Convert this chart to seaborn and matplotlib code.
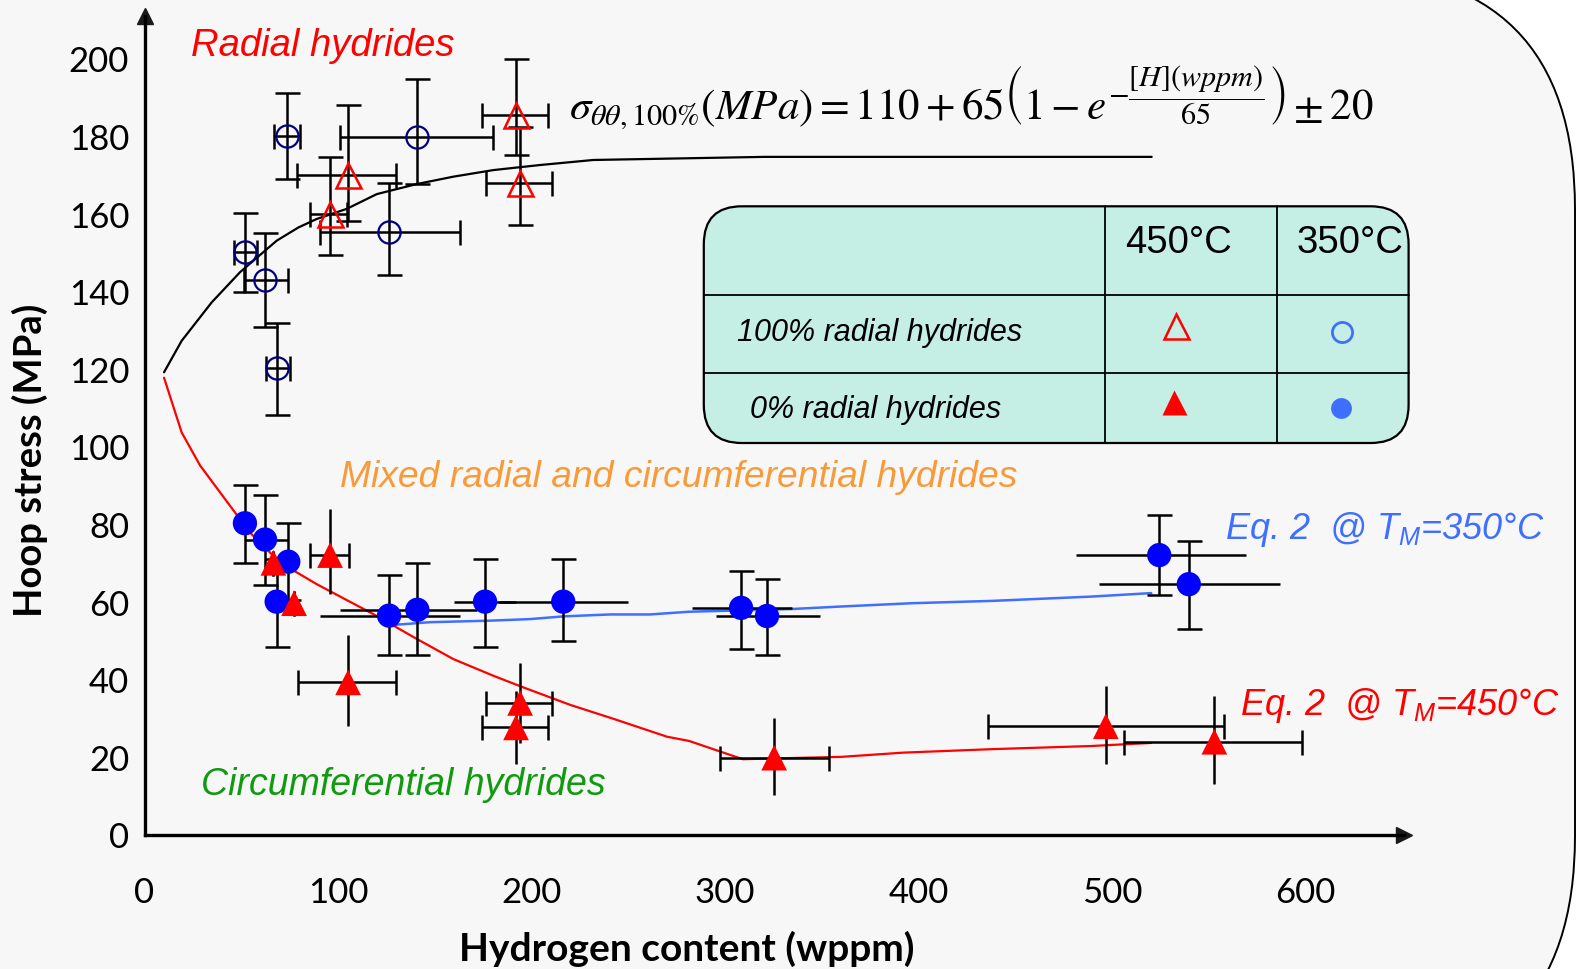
import numpy as np
import pandas as pd
import matplotlib
matplotlib.use("Agg")
import matplotlib.pyplot as plt
import seaborn as sns
from matplotlib.patches import FancyBboxPatch

# ---------------- data ----------------
# 450 °C, 100 % radial hydrides (open triangles)
h450_open = [192.0, 194.1, 105.0, 95.9]
h450_open_min = [174.2, 176.3, 79.0, 85.5]
h450_open_max = [208.5, 210.8, 130.0, 104.5]
s450_open = [185.5, 167.9, 170.0, 159.9]
s450_open_min = [175.2, 157.0, 158.2, 149.4]
s450_open_max = [199.8, 182.4, 187.9, 174.6]

# 350 °C, 100 % radial hydrides (open circles)
h350_open = [73.8, 140.7, 51.9, 62.3, 68.3, 126.4]
h350_open_min = [67.1, 101.0, 46.4, 51.6, 62.8, 90.7]
h350_open_max = [80.4, 180.3, 58.0, 74.0, 75.2, 163.1]
s350_open = [179.9, 179.6, 150.2, 143.0, 120.2, 155.3]
s350_open_min = [168.9, 167.6, 139.7, 130.8, 108.2, 144.1]
s350_open_max = [191.0, 194.7, 160.2, 154.9, 131.8, 167.9]

# 350 °C, 0 % radial hydrides (filled circles)
h350_full = [51.9, 62.3, 74.3, 68.3, 126.4, 141.0, 176.0, 216.4, 308.3, 321.7, 524.4, 539.7]
h350_full_min = [51.9, 51.9, 74.3, 68.3, 90.7, 101.0, 160.0, 183.0, 282.9, 295.4, 481.6, 493.1]
h350_full_max = [51.9, 74.3, 74.3, 68.3, 163.1, 172.0, 192.0, 249.7, 334.6, 348.9, 569.2, 586.6]
s350_full = [80.2, 76.0, 70.3, 60.0, 56.4, 57.9, 60.0, 60.0, 58.4, 56.3, 72.0, 64.5]
s350_full_min = [70.0, 64.4, 60.3, 48.4, 46.3, 46.3, 48.4, 49.9, 47.8, 46.2, 61.8, 53.0]
s350_full_max = [90.1, 87.6, 80.3, 71.0, 66.9, 70.0, 71.0, 71.0, 67.9, 65.8, 82.4, 75.6]

# 450 °C, 0 % radial hydrides (filled triangles)
h450_full = [66.6, 77.3, 95.9, 105.2, 194.1, 192.0, 325.4, 496.8, 552.9]
h450_full_min = [66.6, 77.3, 85.5, 79.3, 176.5, 174.3, 297.2, 435.7, 506.0]
h450_full_max = [66.6, 77.3, 105.8, 129.8, 210.4, 208.7, 353.5, 557.7, 598.2]
s450_full = [70.0, 59.6, 72.0, 39.2, 33.9, 27.6, 19.8, 27.9, 23.9]
s450_full_min = [70.0, 59.6, 62.0, 27.9, 23.6, 18.2, 10.2, 18.2, 13.0]
s450_full_max = [70.0, 59.6, 83.9, 51.4, 44.2, 37.0, 30.1, 38.3, 35.7]

# fitted curves (traced)
black_h = [10.1, 19.2, 34.7, 49.4, 68.3, 79.5, 89.0, 104.5, 120.0, 140.7, 159.6, 180.3, 204.4, 231.9, 320.3, 520.5]
black_s = [119.1, 127.2, 137.1, 144.9, 153.0, 156.4, 158.6, 161.2, 165.0, 167.6, 169.5, 171.2, 172.5, 173.8, 174.6, 174.6]
red_h = [10.1, 19.2, 28.7, 44.2, 54.5, 70.0, 89.0, 118.2, 140.7, 159.6, 180.3, 195.8, 220.0, 242.4, 270.0,
         281.5, 309.2, 359.9, 392.3, 438.5, 489.2, 520.3]
red_s = [117.7, 103.6, 95.1, 84.7, 77.8, 70.1, 64.5, 56.8, 50.4, 45.2, 40.9, 37.9, 33.4, 29.8, 25.2,
         24.1, 19.4, 20.0, 21.1, 22.0, 22.8, 23.6]
blue_h = [128.6, 147.5, 178.6, 199.2, 216.4, 240.6, 261.2, 281.5, 334.6, 362.3, 396.9, 438.5, 466.1, 489.2, 520.3]
blue_s = [54.0, 54.7, 55.1, 55.5, 56.2, 56.7, 56.7, 57.4, 58.1, 58.8, 59.6, 60.2, 60.8, 61.3, 62.2]

x_ticks = [0, 100, 200, 300, 400, 500, 600]
y_ticks = [0, 20, 40, 60, 80, 100, 120, 140, 160, 180, 200]
x_label = "Hydrogen content (wppm)"
y_label = "Hoop stress (MPa)"

# ---------------- styling ----------------
sns.set_theme(style="white")
plt.rcParams["font.family"] = ["Liberation Sans", "DejaVu Sans"]
plt.rcParams["text.color"] = "black"
plt.rcParams["axes.labelcolor"] = "black"
plt.rcParams["xtick.color"] = "black"
plt.rcParams["ytick.color"] = "black"
plt.rcParams["mathtext.fontset"] = "stix"
plt.rcParams["mathtext.rm"] = "Liberation Sans"
plt.rcParams["mathtext.it"] = "Liberation Sans:italic"
plt.rcParams["mathtext.bf"] = "Liberation Sans:bold"

W, H = 1577, 970
fig = plt.figure(figsize=(W / 100, H / 100), dpi=100, facecolor="white")

# background rounded panel (pixel coordinates)
bg = fig.add_axes([0, 0, 1, 1], zorder=-2)
bg.set_xlim(0, W); bg.set_ylim(H, 0); bg.axis("off")
bg.add_patch(FancyBboxPatch((-400, -30), 1975, 1107, boxstyle="round,pad=0,rounding_size=240",
                            fc="#f7f7f7", ec="black", lw=1.4))

# main axes
x0px, y0px = 144.5, 835.5
pxx, pxy = 1.935, 3.881
xmax, ymax = 651, 211
ax = fig.add_axes([x0px / W, (H - y0px) / H, xmax * pxx / W, ymax * pxy / H], zorder=1)
ax.patch.set_alpha(0)
ax.set_xlim(0, xmax); ax.set_ylim(0, ymax)
for s in ["top", "right"]:
    ax.spines[s].set_visible(False)
for s in ["left", "bottom"]:
    ax.spines[s].set_linewidth(2.4)
    ax.spines[s].set_color("black")
ax.plot(1, 0, ">k", ms=11, transform=ax.get_yaxis_transform(), clip_on=False)
ax.plot(0, 1, "^k", ms=11, transform=ax.get_xaxis_transform(), clip_on=False)
ax.set_xticks(x_ticks); ax.set_yticks(y_ticks)
ax.set_xticklabels([str(v) for v in x_ticks])
ax.set_yticklabels([str(v) for v in y_ticks])
ax.tick_params(axis="both", direction="out", length=7, width=1.6, color="black",
               labelsize=25, labelcolor="black")
ax.tick_params(axis="x", pad=23)
ax.tick_params(axis="y", pad=4)
for lab in ax.get_xticklabels() + ax.get_yticklabels():
    lab.set_family("Lato")

# curves
sns.lineplot(x=black_h, y=black_s, sort=False, estimator=None, color="black", lw=1.6, ax=ax, zorder=2)
sns.lineplot(x=red_h, y=red_s, sort=False, estimator=None, color="#ff0000", lw=1.6, ax=ax, zorder=2)
sns.lineplot(x=blue_h, y=blue_s, sort=False, estimator=None, color="#3f6fff", lw=1.8, ax=ax, zorder=2)


def errs(v, vmin, vmax):
    v, vmin, vmax = map(np.asarray, (v, vmin, vmax))
    return np.vstack([v - vmin, vmax - v])


def draw_err(h, hmin, hmax, s, smin, smax, capx, capy):
    ax.errorbar(h, s, xerr=errs(h, hmin, hmax), fmt="none", ecolor="black", elinewidth=1.8,
                capsize=(9 if capx else 0), capthick=1.8, zorder=3)
    ax.errorbar(h, s, yerr=errs(s, smin, smax), fmt="none", ecolor="black", elinewidth=1.8,
                capsize=(9 if capy else 0), capthick=1.8, zorder=3)


draw_err(h350_open, h350_open_min, h350_open_max, s350_open, s350_open_min, s350_open_max, True, True)
draw_err(h450_open, h450_open_min, h450_open_max, s450_open, s450_open_min, s450_open_max, True, True)
draw_err(h350_full, h350_full_min, h350_full_max, s350_full, s350_full_min, s350_full_max, False, True)
draw_err(h450_full, h450_full_min, h450_full_max, s450_full, s450_full_min, s450_full_max, True, False)

# markers
df_c = pd.DataFrame({"h": h350_full, "s": s350_full})
df_t = pd.DataFrame({"h": h450_full, "s": s450_full})
sns.scatterplot(data=df_c, x="h", y="s", marker="o", s=17.5 ** 2, color="#0000ff", edgecolor="none",
                ax=ax, zorder=4, legend=False)
sns.scatterplot(data=df_t, x="h", y="s", marker="^", s=18.5 ** 2, color="#ff0000", edgecolor="none",
                ax=ax, zorder=4, legend=False)
ax.plot(h350_open, s350_open, "o", ms=16, mfc="none", mec="#000080", mew=1.6, zorder=4)
ax.plot(h450_open, s450_open, "^", ms=18, mfc="none", mec="#ff0000", mew=1.8, zorder=4)
ax.set_xlabel(""); ax.set_ylabel("")

# overlay (pixel coordinates) for texts and table
ov = fig.add_axes([0, 0, 1, 1], zorder=5)
ov.patch.set_alpha(0)
ov.set_xlim(0, W); ov.set_ylim(H, 0); ov.axis("off")

ov.text(687, 949, x_label, ha="center", va="center", fontsize=28, fontweight="bold", family="Lato")
ov.text(30, 460, y_label, ha="center", va="center", fontsize=27.5, fontweight="bold", family="Lato",
        rotation=90)

ita = dict(style="italic", va="center", ha="left")
ov.text(191, 46, "Radial hydrides", color="#ff0000", fontsize=27.5, **ita)
ov.text(340, 478, "Mixed radial and circumferential hydrides", color="#f99a38", fontsize=26.8, **ita)
ov.text(201, 785, "Circumferential hydrides", color="#109a10", fontsize=27, **ita)
ov.text(1225, 530, r"Eq. 2  @ $T_M$=350°C", color="#3f6fff", fontsize=26, math_fontfamily="custom", **ita)
ov.text(1240, 706, r"Eq. 2  @ $T_M$=450°C", color="#ff0000", fontsize=26, math_fontfamily="custom", **ita)

eq = r"$\sigma_{\theta\theta,100\%}(MPa) = 110 + 65\left(1 - e^{-\dfrac{[H](wppm)}{65}}\right) \pm 20$"
ov.text(569, 98, eq, ha="left", va="center", fontsize=31, math_fontfamily="stix", color="black")

# table
tx0, ty0, tx1, ty1 = 703.8, 207.3, 1408.6, 444.0
ov.add_patch(FancyBboxPatch((tx0, ty0), tx1 - tx0, ty1 - ty0, boxstyle="round,pad=0,rounding_size=38",
                            fc="#c5eee4", ec="black", lw=1.6))
for xc in [1104.6, 1276.8]:
    ov.plot([xc, xc], [ty0, ty1], color="black", lw=1.3)
for yr in [295.7, 373.7]:
    ov.plot([tx0, tx1], [yr, yr], color="black", lw=1.3)
ov.text(1178, 243, "450°C", ha="center", va="center", fontsize=27.5)
ov.text(1350, 243, "350°C", ha="center", va="center", fontsize=27.5)
ov.text(880, 333, "100% radial hydrides", ha="center", va="center", fontsize=22, style="italic")
ov.text(876, 410, "0% radial hydrides", ha="center", va="center", fontsize=22, style="italic")
ov.plot(1176, 327, "^", ms=18, mfc="none", mec="#ff0000", mew=1.8)
ov.plot(1342, 333, "o", ms=14.5, mfc="none", mec="#3f6fff", mew=2)
ov.plot(1174, 403, "^", ms=18, mfc="#ff0000", mec="none")
ov.plot(1341, 409, "o", ms=15, mfc="#3f6fff", mec="none")

fig.savefig("out.png", dpi=100, facecolor="white")
